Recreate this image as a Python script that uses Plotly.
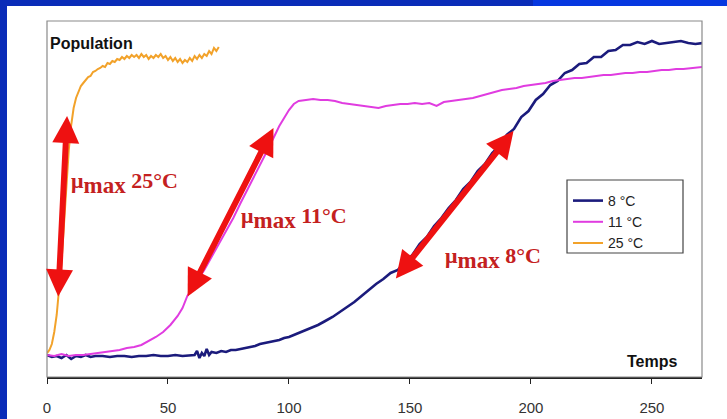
import plotly.graph_objects as go

# ---------------- data (time, population in arbitrary units) ----------------
blue_t = [0, 2, 4, 6, 8, 10, 12, 14, 16, 18, 20, 23, 26, 29, 32, 35, 38, 41, 44, 47, 50, 53, 56, 59,
          61, 62, 63, 64, 65, 66, 67, 68, 70, 72, 74, 76, 78, 80, 82, 84, 86, 88, 90, 92, 94, 96, 98,
          100, 103, 106, 109, 112, 115, 118, 121, 124, 127, 130, 133, 136, 139, 142, 145, 148, 151,
          154, 157, 160, 163, 166, 169, 172, 175, 178, 181, 184, 187, 190, 193, 196, 199, 202, 205,
          208, 211, 214, 217, 220, 223, 226, 229, 232, 235, 238, 241, 244, 247, 250, 253, 256, 259,
          262, 265, 268, 271]
blue_v = [22, 20, 21, 19, 22, 18, 21, 20, 22, 20, 21, 21, 20, 21, 21, 20, 21, 21, 22, 21, 21, 22, 21, 22,
          22, 26, 19, 24, 21, 28, 22, 25, 24, 26, 25, 27, 27, 28, 29, 30, 31, 33, 34, 35, 36, 37, 39,
          40, 43, 46, 49, 52, 56, 60, 65, 70, 75, 81, 87, 93, 98, 104, 107, 114, 122,
          133, 140, 151, 159, 169, 177, 188, 195, 206, 213, 224, 231, 242, 248, 260, 266, 277, 283,
          292, 296, 304, 307, 313, 314, 320, 320, 326, 327, 332, 332, 335, 333, 336, 333, 334, 335,
          336, 334, 333, 334]

magenta_t = [0, 3, 6, 9, 12, 15, 18, 21, 24, 27, 30, 33, 36, 39, 42, 45, 48, 51, 54, 56, 58, 60, 62, 65,
             68, 71, 74, 77, 80, 83, 86, 89, 92, 94, 96, 98, 100, 102, 104, 107, 110, 113, 116, 119,
             122, 125, 128, 131, 134, 137, 140, 143, 146, 149, 152, 155, 158, 161, 164, 167, 170, 173,
             176, 179, 182, 185, 188, 191, 194, 197, 200, 203, 206, 209, 212, 215, 218, 221, 224, 227,
             230, 233, 236, 239, 242, 245, 248, 251, 254, 257, 260, 263, 266, 269, 271]
magenta_v = [22, 21, 23, 21, 22, 22, 23, 24, 25, 26, 27, 29, 30, 32, 36, 40, 45, 52, 61, 69, 81, 89, 96, 107,
             120, 133, 146, 159, 174, 188, 202, 216, 231, 241, 251, 259, 267, 273, 276, 277, 278, 277, 277, 276,
             274, 273, 272, 271, 270, 269, 271, 272, 273, 273, 274, 273, 274, 271, 275, 276, 277, 278,
             279, 281, 283, 285, 287, 288, 289, 291, 292, 293, 294, 296, 297, 298, 299, 299, 300, 301,
             302, 302, 303, 304, 304, 305, 305, 306, 307, 307, 308, 308, 309, 310, 310]

orange_t = list(range(0, 72))
orange_v = [24, 27, 33, 45, 62, 85, 115, 152, 192, 227, 252, 269, 279, 286, 291, 294, 297, 300, 301, 305,
            306, 308, 309, 311, 310, 314, 313, 316, 315, 318, 317, 320, 318, 321, 319, 322, 320, 322, 319,
            323, 320, 322, 318, 321, 319, 322, 320, 323, 319, 321, 317, 320, 316, 319, 315, 318, 314, 317,
            315, 319, 316, 321, 318, 322, 319, 323, 321, 326, 323, 329, 326, 330]

series_names = ["8 °C", "11 °C", "25 °C"]
series_colors = ["#1b1b7c", "#e03ce0", "#f2a22a"]

x_ticks = [0, 50, 100, 150, 200, 250]

# double arrows: (tip1 x, tip1 y, tip2 x, tip2 y) in data units
arrow_25 = (8.3, 261, 4.6, 79)
arrow_11 = (93.6, 249, 57.8, 79)
arrow_8 = (192.8, 246, 143.7, 97)
label_temps = ["25°C", "11°C", "8°C"]
label_pos = [(9.2, 194), (79.2, 159), (163.8, 119)]

# ---------------- geometry helpers (pixel -> paper) ----------------
W, H = 727, 419
ML, MR, MT, MB = 47, 25, 21, 42
PW, PH = W - ML - MR, H - MT - MB


def px(x):
    return (x - ML) / PW


def py(y):
    return (H - MB - y) / PH


# ---------------- figure ----------------
fig = go.Figure()
for t, v, n, c, w in [(blue_t, blue_v, series_names[0], series_colors[0], 2.6),
                      (magenta_t, magenta_v, series_names[1], series_colors[1], 2.0),
                      (orange_t, orange_v, series_names[2], series_colors[2], 2.0)]:
    fig.add_trace(go.Scatter(x=t, y=v, mode="lines", name=n,
                             line=dict(color=c, width=w)))

ann = []
for (x1, y1, x2, y2) in [arrow_25, arrow_11, arrow_8]:
    ann.append(dict(x=x1, y=y1, ax=x2, ay=y2, xref="x", yref="y", axref="x", ayref="y",
                    text="", showarrow=True, arrowside="end+start",
                    arrowhead=2, startarrowhead=2, arrowsize=0.9, startarrowsize=0.9,
                    arrowwidth=6, arrowcolor="#ee1111", standoff=0, startstandoff=0))
for temp, (lx, ly) in zip(label_temps, label_pos):
    txt = ("<b>μ<sub><span style='font-size:23px'>max</span></sub> " + temp + "</b>")
    ann.append(dict(x=lx, y=ly, xref="x", yref="y", text=txt, showarrow=False,
                    xanchor="left", yanchor="middle",
                    font=dict(family="Liberation Serif", size=22, color="#c42020")))
ann.append(dict(x=px(48), y=py(43), xref="paper", yref="paper", text="<b>Population</b>",
                showarrow=False, xanchor="left", yanchor="middle",
                font=dict(family="Liberation Sans", size=16, color="#111")))
ann.append(dict(x=px(679), y=py(361), xref="paper", yref="paper", text="<b>Temps</b>",
                showarrow=False, xanchor="right", yanchor="middle",
                font=dict(family="Liberation Sans", size=16, color="#111")))

shapes = [
    dict(type="rect", xref="paper", yref="paper", x0=px(7), x1=px(W), y0=py(H), y1=py(6),
         fillcolor="white", line=dict(width=0), layer="below"),
    dict(type="rect", xref="paper", yref="paper", x0=px(533), x1=px(W), y0=py(6), y1=py(0),
         fillcolor="#0638e0", line=dict(width=0), layer="below"),
    dict(type="rect", xref="x domain", yref="y domain", x0=0, x1=1, y0=0, y1=1,
         line=dict(color="#8a8a8a", width=1.2), layer="above"),
    # legend frame
    dict(type="rect", xref="paper", yref="paper", x0=px(567), x1=px(683), y0=py(253), y1=py(180),
         fillcolor="white", line=dict(color="#444", width=1.2), layer="above"),
]

fig.update_layout(
    width=W, height=H,
    margin=dict(l=ML, r=MR, t=MT, b=MB, autoexpand=False),
    paper_bgcolor="#0a2cb8", plot_bgcolor="white",
    showlegend=True,
    legend=dict(x=px(568), y=py(185), xanchor="left", yanchor="top",
                bgcolor="rgba(0,0,0,0)", borderwidth=0,
                font=dict(family="Liberation Sans", size=14, color="#222"),
                itemwidth=30, tracegroupgap=0),
    annotations=ann, shapes=shapes,
    xaxis=dict(range=[0, 270.7], tickvals=x_ticks, showgrid=False, zeroline=False,
               showline=True, linecolor="#222", linewidth=1.5, ticks="outside", ticklen=5,
               tickcolor="#222", ticklabelstandoff=11, automargin=False,
               tickfont=dict(family="Liberation Sans", size=15, color="#333")),
    yaxis=dict(range=[0, 356], showgrid=False, zeroline=False, showticklabels=False,
               showline=False, automargin=False),
)

fig.write_html("out.html")
